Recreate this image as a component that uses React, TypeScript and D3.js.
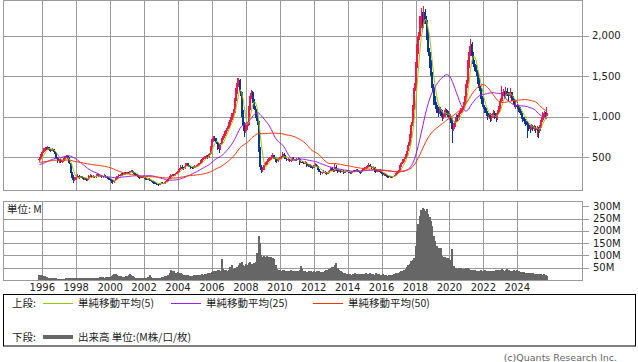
import React from 'react';
import * as d3 from 'd3';

// monthly candles, Nov 1995 .. Oct 2025
const startYear = 1995;
const startMonth = 10; // 0 = January

// Oct 1991 .. Oct 1995, not drawn: only feeds the moving averages at the left edge
const preClose = [
  480, 470, 460,
  450, 470, 460, 440, 450, 470, 480, 460, 450, 470, 460, 450,
  460, 470, 480, 470, 460, 450, 460, 470, 460, 450, 430, 420,
  410, 400, 420, 410, 400, 390, 410, 420, 400, 390, 380, 390,
  380, 370, 360, 380, 390, 400, 410, 430, 450, 460,
];

const open = [
  460, 470,
  520, 560, 590, 610, 600, 620, 590, 580, 600, 570, 540, 490,
  450, 460, 440, 450, 480, 500, 510, 490, 420, 320, 260, 210,
  230, 250, 270, 240, 260, 250, 230, 240, 220, 230, 260, 270,
  250, 260, 250, 270, 280, 260, 270, 250, 260, 270, 250, 240,
  230, 220, 200, 190, 210, 230, 260, 280, 270, 290, 280, 300,
  290, 310, 300, 320, 330, 310, 290, 280, 270, 250, 240, 260,
  250, 240, 230, 220, 230, 210, 200, 190, 180, 170, 165, 160,
  170, 180, 175, 170, 190, 210, 230, 260, 270, 280, 270, 290,
  300, 330, 350, 380, 370, 360, 390, 420, 400, 380, 370, 360,
  380, 380, 390, 400, 420, 450, 470, 480, 500, 510, 500, 540,
  620, 700, 740, 720, 680, 620, 600, 660, 720, 760, 800, 840,
  860, 920, 960, 1000, 1050, 1200, 1300, 1420, 1450, 1300, 1050, 900,
  820, 880, 900, 1100, 1250, 1300, 1200, 1100, 1000, 950, 600, 380,
  340, 360, 400, 420, 450, 470, 480, 500, 520, 480, 460, 450,
  470, 480, 500, 540, 520, 480, 460, 470, 450, 460, 480, 470,
  460, 470, 480, 430, 440, 430, 420, 430, 400, 390, 400, 380,
  370, 380, 400, 390, 350, 320, 300, 310, 320, 300, 290, 310,
  330, 360, 340, 330, 380, 350, 320, 330, 320, 330, 310, 320,
  330, 320, 310, 300, 320, 330, 320, 340, 330, 320, 310, 330,
  350, 360, 370, 380, 400, 380, 360, 370, 340, 320, 330, 340,
  320, 300, 280, 290, 270, 260, 250, 260, 250, 260, 270, 290,
  310, 330, 380, 420, 450, 480, 520, 580, 650, 760, 900, 1100,
  1350, 1600, 1850, 2000, 2150, 2250, 2150, 2300, 2200, 2000, 1800, 1650,
  1500, 1350, 1200, 1150, 1080, 1050, 1100, 1050, 1000, 1020, 1080, 1050,
  1000, 1000, 950, 850, 900, 950, 1000, 980, 1050, 1080, 1100, 1150,
  1200, 1400, 1650, 1800, 1900, 1750, 1650, 1600, 1550, 1450, 1350, 1250,
  1200, 1120, 1080, 1050, 1000, 1020, 980, 1000, 1050, 1000, 980, 1050,
  1100, 1200, 1280, 1300, 1250, 1320, 1280, 1250, 1300, 1220, 1200, 1150,
  1150, 1120, 1100, 1050, 1000, 980, 950, 920, 900, 880, 850, 880,
  860, 860, 840, 850, 820, 880, 960, 1020, 1040, 1010,
];

const high = [
  500, 540,
  575, 610, 630, 625, 640, 625, 600, 615, 605, 575, 545, 500,
  480, 470, 460, 490, 515, 530, 520, 495, 430, 330, 275, 250,
  265, 290, 275, 270, 265, 255, 255, 245, 240, 275, 290, 275,
  275, 270, 285, 300, 285, 280, 275, 270, 285, 275, 260, 250,
  240, 225, 210, 220, 240, 270, 295, 290, 300, 300, 315, 310,
  320, 320, 330, 345, 335, 315, 300, 290, 280, 260, 270, 265,
  255, 250, 240, 240, 235, 215, 205, 195, 185, 180, 170, 180,
  190, 185, 180, 200, 220, 240, 270, 285, 295, 290, 300, 315,
  345, 365, 395, 395, 380, 400, 430, 430, 405, 390, 380, 390,
  395, 400, 415, 430, 460, 485, 495, 515, 530, 520, 555, 640,
  720, 760, 760, 735, 690, 640, 670, 730, 780, 820, 860, 890,
  940, 990, 1040, 1090, 1230, 1350, 1480, 1485, 1470, 1320, 1080, 930,
  910, 940, 1130, 1290, 1330, 1320, 1220, 1130, 1040, 980, 620, 400,
  380, 420, 440, 470, 490, 500, 520, 545, 530, 495, 475, 490,
  495, 515, 560, 555, 530, 490, 485, 480, 475, 495, 495, 480,
  485, 495, 490, 450, 450, 440, 445, 440, 410, 415, 410, 390,
  395, 420, 410, 395, 355, 330, 320, 335, 325, 310, 320, 345,
  380, 370, 350, 420, 400, 355, 345, 335, 345, 335, 330, 345,
  340, 330, 320, 330, 345, 340, 355, 350, 340, 330, 340, 365,
  375, 385, 395, 420, 410, 390, 385, 375, 350, 345, 355, 350,
  330, 310, 300, 295, 280, 270, 270, 265, 270, 280, 300, 325,
  345, 395, 435, 470, 495, 540, 600, 680, 790, 940, 1150, 1420,
  1680, 1900, 2050, 2250, 2350, 2300, 2370, 2340, 2250, 2080, 1850, 1700,
  1550, 1400, 1250, 1180, 1120, 1130, 1120, 1080, 1050, 1110, 1100, 1070,
  1050, 1030, 980, 920, 970, 1030, 1020, 1070, 1110, 1130, 1180, 1250,
  1450, 1700, 1880, 1960, 1920, 1800, 1700, 1640, 1580, 1480, 1380, 1290,
  1230, 1150, 1110, 1070, 1050, 1040, 1030, 1080, 1070, 1020, 1080, 1130,
  1230, 1380, 1340, 1320, 1370, 1350, 1300, 1360, 1310, 1250, 1220, 1190,
  1180, 1150, 1120, 1070, 1030, 1000, 970, 950, 920, 900, 910, 900,
  900, 880, 880, 870, 900, 990, 1060, 1070, 1060, 1120,
];

const low = [
  440, 465,
  510, 545, 575, 585, 590, 580, 560, 570, 560, 530, 480, 430,
  430, 430, 425, 440, 470, 490, 480, 410, 300, 240, 180, 200,
  220, 240, 230, 235, 240, 220, 220, 200, 205, 225, 250, 240,
  240, 240, 245, 260, 250, 255, 240, 240, 250, 240, 230, 215,
  205, 180, 165, 180, 200, 225, 250, 260, 265, 270, 275, 280,
  285, 290, 295, 310, 300, 280, 270, 260, 235, 225, 235, 240,
  230, 220, 210, 210, 200, 190, 180, 170, 160, 155, 145, 155,
  165, 170, 160, 165, 185, 205, 225, 250, 260, 260, 265, 285,
  295, 320, 340, 355, 345, 350, 385, 390, 370, 355, 350, 355,
  365, 370, 380, 395, 410, 440, 460, 470, 490, 480, 490, 530,
  610, 680, 700, 660, 590, 550, 590, 650, 710, 740, 790, 820,
  850, 890, 940, 980, 1030, 1180, 1280, 1370, 1250, 1000, 850, 750,
  800, 840, 880, 1080, 1220, 1170, 1080, 980, 900, 560, 340, 300,
  320, 345, 385, 405, 440, 455, 465, 490, 470, 440, 430, 440,
  460, 470, 495, 510, 470, 445, 450, 435, 440, 450, 460, 445,
  450, 460, 400, 420, 420, 410, 410, 380, 375, 380, 365, 355,
  360, 375, 380, 340, 310, 280, 290, 300, 290, 275, 285, 305,
  325, 330, 315, 320, 330, 300, 310, 305, 310, 295, 300, 310,
  310, 300, 285, 290, 310, 310, 315, 320, 310, 295, 300, 325,
  340, 350, 360, 375, 370, 350, 350, 320, 300, 310, 320, 305,
  285, 260, 270, 260, 245, 235, 240, 240, 245, 255, 265, 285,
  300, 320, 370, 410, 440, 470, 510, 570, 640, 740, 880, 1080,
  1320, 1550, 1780, 1950, 2100, 2050, 2100, 2150, 1950, 1750, 1600, 1450,
  1300, 1150, 1100, 1040, 1000, 1030, 1010, 950, 970, 1000, 1020, 980,
  960, 920, 670, 820, 870, 930, 950, 960, 1030, 1050, 1080, 1130,
  1180, 1350, 1600, 1750, 1700, 1620, 1560, 1500, 1400, 1320, 1220, 1160,
  1100, 1050, 1010, 960, 970, 940, 950, 980, 970, 940, 960, 1030,
  1080, 1180, 1250, 1220, 1230, 1250, 1200, 1230, 1190, 1150, 1120, 1100,
  1090, 1060, 1020, 970, 940, 910, 880, 740, 820, 800, 830, 820,
  820, 800, 750, 730, 800, 860, 940, 990, 980, 990,
];

const close = [
  470, 520,
  560, 590, 610, 600, 620, 590, 580, 600, 570, 540, 490, 450,
  460, 440, 450, 480, 500, 510, 490, 420, 320, 260, 210, 230,
  250, 270, 240, 260, 250, 230, 240, 220, 230, 260, 270, 250,
  260, 250, 270, 280, 260, 270, 250, 260, 270, 250, 240, 230,
  220, 200, 190, 210, 230, 260, 280, 270, 290, 280, 300, 290,
  310, 300, 320, 330, 310, 290, 280, 270, 250, 240, 260, 250,
  240, 230, 220, 230, 210, 200, 190, 180, 170, 165, 160, 170,
  180, 175, 170, 190, 210, 230, 260, 270, 280, 270, 290, 300,
  330, 350, 380, 370, 360, 390, 420, 400, 380, 370, 360, 380,
  380, 390, 400, 420, 450, 470, 480, 500, 510, 500, 540, 620,
  700, 740, 720, 680, 620, 600, 660, 720, 760, 800, 840, 860,
  920, 960, 1000, 1050, 1200, 1300, 1420, 1450, 1300, 1050, 900, 820,
  880, 900, 1100, 1250, 1300, 1200, 1100, 1000, 950, 600, 380, 340,
  360, 400, 420, 450, 470, 480, 500, 520, 480, 460, 450, 470,
  480, 500, 540, 520, 480, 460, 470, 450, 460, 480, 470, 460,
  470, 480, 430, 440, 430, 420, 430, 400, 390, 400, 380, 370,
  380, 400, 390, 350, 320, 300, 310, 320, 300, 290, 310, 330,
  360, 340, 330, 380, 350, 320, 330, 320, 330, 310, 320, 330,
  320, 310, 300, 320, 330, 320, 340, 330, 320, 310, 330, 350,
  360, 370, 380, 400, 380, 360, 370, 340, 320, 330, 340, 320,
  300, 280, 290, 270, 260, 250, 260, 250, 260, 270, 290, 310,
  330, 380, 420, 450, 480, 520, 580, 650, 760, 900, 1100, 1350,
  1600, 1850, 2000, 2150, 2250, 2150, 2300, 2200, 2000, 1800, 1650, 1500,
  1350, 1200, 1150, 1080, 1050, 1100, 1050, 1000, 1020, 1080, 1050, 1000,
  1000, 950, 850, 900, 950, 1000, 980, 1050, 1080, 1100, 1150, 1200,
  1400, 1650, 1800, 1900, 1750, 1650, 1600, 1550, 1450, 1350, 1250, 1200,
  1120, 1080, 1050, 1000, 1020, 980, 1000, 1050, 1000, 980, 1050, 1100,
  1200, 1280, 1300, 1250, 1320, 1280, 1250, 1300, 1220, 1200, 1150, 1150,
  1120, 1100, 1050, 1000, 980, 950, 920, 900, 880, 850, 880, 860,
  860, 840, 850, 820, 880, 960, 1020, 1040, 1010, 1050,
];

// volume, millions
const volume = [
  20, 22,
  20, 18, 15, 12, 10, 9, 8, 8, 7, 8, 7, 6,
  6, 5, 6, 5, 6, 7, 8, 7, 9, 10, 9, 8,
  7, 8, 9, 8, 7, 8, 9, 10, 8, 7, 8, 9,
  8, 9, 10, 9, 10, 11, 12, 11, 10, 12, 11, 13,
  14, 16, 20, 24, 25, 22, 18, 16, 15, 14, 13, 15,
  17, 20, 25, 22, 15, 12, 10, 10, 9, 9, 8, 8,
  9, 8, 10, 12, 20, 14, 10, 9, 8, 8, 9, 10,
  10, 11, 13, 15, 18, 22, 30, 40, 38, 35, 28, 30,
  32, 30, 28, 24, 22, 20, 19, 20, 18, 17, 18, 20,
  18, 19, 20, 22, 21, 23, 22, 24, 26, 27, 28, 30,
  32, 35, 38, 36, 40, 42, 38, 85, 45, 42, 40, 38,
  42, 55, 60, 45, 48, 50, 52, 60, 68, 72, 62, 58,
  65, 60, 70, 75, 65, 60, 68, 72, 110, 178, 150, 100,
  95, 98, 95, 96, 94, 95, 95, 90, 85, 60, 45, 40,
  40, 38, 42, 40, 38, 36, 35, 38, 40, 38, 36, 35,
  38, 36, 40, 57, 45, 38, 35, 33, 34, 36, 35, 33,
  35, 34, 36, 38, 35, 33, 32, 34, 36, 40, 42, 45,
  50, 55, 52, 60, 68, 50, 40, 35, 32, 30, 28, 26,
  25, 24, 26, 22, 24, 28, 26, 24, 22, 25, 23, 24,
  26, 28, 25, 24, 30, 26, 24, 22, 28, 25, 23, 22,
  22, 24, 21, 20, 18, 20, 22, 21, 20, 25, 28, 30,
  30, 32, 35, 38, 42, 46, 55, 60, 64, 78, 82, 88,
  140, 198, 230, 260, 285, 295, 290, 280, 290, 270, 255, 240,
  220, 180, 160, 140, 130, 132, 130, 97, 95, 92, 90, 88,
  85, 82, 127, 57, 50, 48, 45, 48, 50, 46, 44, 42,
  48, 50, 46, 40, 38, 42, 40, 38, 36, 38, 40, 36,
  38, 40, 36, 35, 37, 38, 36, 35, 38, 40, 42, 40,
  42, 44, 40, 38, 42, 45, 40, 38, 36, 38, 40, 38,
  40, 36, 34, 32, 30, 31, 30, 28, 29, 30, 28, 27,
  26, 25, 24, 25, 24, 23, 22, 24, 22, 15,
];

const priceTicks = [500, 1000, 1500, 2000];
const volumeGrid = [50, 100, 150, 200, 250];
const volumeTicks = [50, 100, 150, 200, 250, 300];
const yearTicks = [1996, 1998, 2000, 2002, 2004, 2006, 2008, 2010, 2012, 2014, 2016, 2018, 2020, 2022, 2024];
const maPeriods = [5, 25, 50];
const maNames = ['単純移動平均(5)', '単純移動平均(25)', '単純移動平均(50)'];

const UP = '#f2164b';
const DOWN = '#0b3597';
const MA_COLORS = ['#99cc00', '#9b1ef5', '#ff3300'];
const GRID = '#9a9a9a';
const AXIS_FONT = '"DejaVu Sans", Verdana, sans-serif';
const JP_FONT = '"Noto Sans CJK JP", sans-serif';

// simple moving average, shorter window at the very start of the history
const sma = (series: number[], n: number) =>
  series.map((_, i) => d3.mean(series.slice(Math.max(0, i - n + 1), i + 1)) as number);

const App = () => {
  const L = 3, R = 583;
  const pTop = 0, pBot = 190;
  const vTop = 201, vBot = 280;

  const x = d3.scaleLinear().domain([1993.683, 2027.874]).range([L, R]);
  const y = d3.scaleLinear().domain([91, 2446]).range([pBot, pTop]);
  const vy = d3.scaleLinear().domain([0, 322]).range([vBot, vTop]);

  const t = (i: number) => startYear + (startMonth + i) / 12;
  const px = (v: number) => Math.round(v) + 0.5;

  const full = preClose.concat(close);
  const mas = maPeriods.map((n) => sma(full, n).slice(preClose.length));
  const line = d3
    .line<number>()
    .x((_, i) => x(t(i)))
    .y((d) => y(d));

  return (
    <svg width={638} height={362} style={{ position: 'absolute', left: 0, top: 0, background: '#fff' }}>
      <defs>
        <clipPath id="pc">
          <rect x={L} y={pTop} width={R - L} height={pBot - pTop} />
        </clipPath>
      </defs>

      {/* price panel grid */}
      {yearTicks.map((yr) => (
        <line key={'gx' + yr} x1={px(x(yr))} x2={px(x(yr))} y1={pTop} y2={pBot} stroke={GRID} />
      ))}
      {priceTicks.map((p) => (
        <g key={'gy' + p}>
          <line x1={L} x2={R + 6} y1={px(y(p))} y2={px(y(p))} stroke={GRID} />
          <text x={592} y={y(p)} dy="0.35em" fontFamily={AXIS_FONT} fontSize={10} fill="#222">
            {d3.format(',')(p)}
          </text>
        </g>
      ))}
      <rect x={L + 0.5} y={pTop + 0.5} width={R - L - 1} height={pBot - pTop} fill="none" stroke={GRID} />

      <g clipPath="url(#pc)" shapeRendering="crispEdges">
        {close.map((c, i) => {
          const o = open[i];
          const col = c >= o ? UP : DOWN;
          const cx = x(t(i));
          const hi = Math.max(high[i], o, c);
          const lo = Math.min(low[i], o, c);
          const top = y(Math.max(o, c));
          return (
            <g key={'c' + i}>
              <rect x={cx - 0.5} width={1} y={y(hi)} height={y(lo) - y(hi)} fill={col} />
              <rect x={cx - 1} width={2} y={top} height={Math.max(1, y(Math.min(o, c)) - top)} fill={col} />
            </g>
          );
        })}
      </g>
      <g clipPath="url(#pc)">
        {mas.map((m, k) => (
          <path key={'ma' + k} d={line(m) as string} fill="none" stroke={MA_COLORS[k]} strokeWidth={1} />
        ))}
      </g>

      {/* volume panel */}
      {yearTicks.map((yr) => (
        <line key={'vx' + yr} x1={px(x(yr))} x2={px(x(yr))} y1={vTop} y2={vBot} stroke={GRID} />
      ))}
      {volumeGrid.map((v) => (
        <line key={'vg' + v} x1={L} x2={R} y1={px(vy(v))} y2={px(vy(v))} stroke={GRID} />
      ))}
      {volumeTicks.map((v) => (
        <g key={'vt' + v}>
          <line x1={R} x2={R + 6} y1={px(vy(v))} y2={px(vy(v))} stroke={GRID} />
          <text x={593} y={vy(v)} dy="0.35em" fontFamily={AXIS_FONT} fontSize={10} fill="#222">
            {v}M
          </text>
        </g>
      ))}
      <g shapeRendering="crispEdges">
        {volume.map((v, i) => (
          <rect key={'v' + i} x={x(t(i)) - 1} width={2} y={vy(v)} height={vBot - vy(v)} fill="#666" />
        ))}
      </g>
      <rect x={L + 0.5} y={vTop + 0.5} width={R - L - 1} height={vBot - vTop} fill="none" stroke={GRID} />
      <text x={7} y={209} dy="0.35em" fontFamily={JP_FONT} fontSize={10.5} fill="#222">
        単位: M
      </text>

      {yearTicks.map((yr) => (
        <text key={'yl' + yr} x={x(yr)} y={291} textAnchor="middle" fontFamily={AXIS_FONT} fontSize={10} fill="#222">
          {yr}
        </text>
      ))}

      {/* legend */}
      <rect x={3.5} y={294.5} width={632} height={51.5} fill="none" stroke="#000" />
      <text x={12} y={303.5} dy="0.35em" fontFamily={JP_FONT} fontSize={10.5} fill="#222">
        上段:
      </text>
      {[43, 171, 313].map((lx, k) => (
        <g key={'lg' + k}>
          <line x1={lx} x2={lx + 30} y1={303.5} y2={303.5} stroke={MA_COLORS[k]} strokeWidth={1} />
          <text x={lx + 35} y={303.5} dy="0.35em" fontFamily={JP_FONT} fontSize={10.5} fill="#222">
            {maNames[k]}
          </text>
        </g>
      ))}
      <text x={12} y={337} dy="0.35em" fontFamily={JP_FONT} fontSize={10.5} fill="#222">
        下段:
      </text>
      <line x1={43} x2={73} y1={337} y2={337} stroke="#666" strokeWidth={4} />
      <text x={78} y={337} dy="0.35em" fontFamily={JP_FONT} fontSize={10.5} fill="#222">
        出来高 単位:(M株/口/枚)
      </text>

      <text x={617} y={358} dy="0.35em" textAnchor="end" fontFamily={AXIS_FONT} fontSize={9.5} fill="#666">
        (c)Quants Research Inc.
      </text>
    </svg>
  );
};

export default App;
